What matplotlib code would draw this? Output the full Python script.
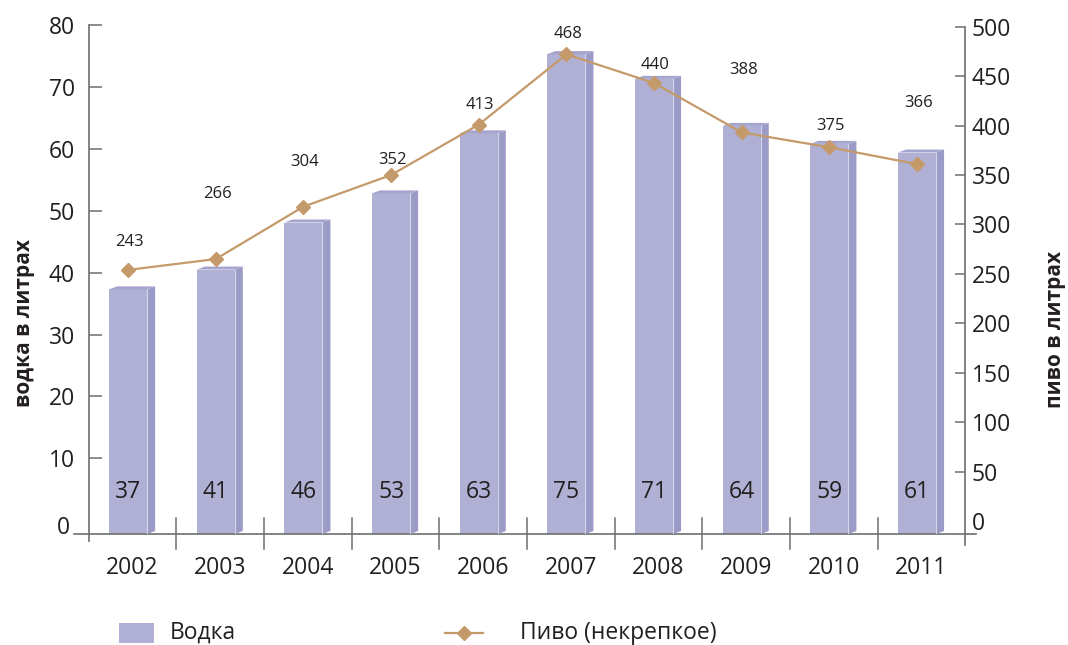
import numpy as np
import matplotlib.pyplot as plt
from matplotlib.patches import Polygon, Rectangle
from matplotlib.lines import Line2D

plt.rcParams['font.family'] = ['Open Sans', 'DejaVu Sans']

# data
years = ['2002', '2003', '2004', '2005', '2006', '2007', '2008', '2009', '2010', '2011']
vodka_heights = [37.3, 40.5, 48.1, 52.8, 62.5, 75.3, 71.3, 63.7, 60.8, 59.4]
vodka_labels = ['37', '41', '46', '53', '63', '75', '71', '64', '59', '61']
beer_values = [254, 265, 318, 350, 401, 472, 443, 393, 378, 361]
beer_labels = ['243', '266', '304', '352', '413', '468', '440', '388', '375', '366']

# label offsets above markers (points), as laid out in the original
beer_label_dy = [20, 47, 32, 11, 14, 15, 13, 45, 15, 44]

front_col = '#B0B0D4'
side_col = '#9C9BC7'
top_col = '#A5A4CE'
beer_col = '#C49A6A'
axis_col = '#6D6E71'
text_col = '#231F20'

fig = plt.figure(figsize=(10.68, 6.45), dpi=100)
ax = fig.add_axes([88.7 / 1068, 111 / 645, 876.6 / 1068, 509 / 645])
ax2 = ax.twinx()

y0 = -2.21
ax.set_ylim(y0, 80)
ax.set_xlim(-0.5, 9.5)
ax2.set_ylim(-13.1, 501.7)

x = np.arange(len(years)) - 0.05
w = 0.434
dx, dy = 0.091, 0.485

ax.bar(x, [h - y0 for h in vodka_heights], bottom=y0, width=w,
       color=front_col, edgecolor='none', zorder=2)
for xi, h in zip(x, vodka_heights):
    r = xi + w / 2
    l = xi - w / 2
    ax.add_patch(Polygon([(r, y0), (r + dx, y0 + dy), (r + dx, h + dy), (r, h)],
                         closed=True, facecolor=side_col, edgecolor='none', zorder=2))
    ax.add_patch(Polygon([(l, h), (l + dx, h + dy), (r + dx, h + dy), (r, h)],
                         closed=True, facecolor=top_col, edgecolor='none', zorder=2))
    ax.plot([r, r], [y0, h], color='#D6D6EA', lw=0.8, zorder=3)

for xi, lab in zip(x, vodka_labels):
    ax.text(xi, 4.6, lab, ha='center', va='center', fontsize=16.5, color=text_col, zorder=4)

ax2.plot(x, beer_values, color=beer_col, lw=1.6, marker='D', ms=7,
         markerfacecolor=beer_col, markeredgecolor=beer_col, zorder=5)
for xi, v, lab, d in zip(x, beer_values, beer_labels, beer_label_dy):
    ax2.annotate(lab, (xi, v), xytext=(1, d), textcoords='offset points',
                 ha='center', va='center', fontsize=12, color=text_col)

# axes styling
for a in (ax, ax2):
    for s in a.spines.values():
        s.set_visible(False)

ax.set_xticks(np.arange(len(years)))
ax.set_xticklabels(years)
ax.tick_params(axis='x', length=0, pad=16, labelsize=16.5, labelcolor=text_col)

ax.set_yticks(range(10, 81, 10))
ax.tick_params(axis='y', direction='in', length=9, width=1.1, color=axis_col,
               pad=10, labelsize=16.5, labelcolor=text_col)
ax.annotate('0', (-0.5, -1.2), xytext=(-13.5, 0), textcoords='offset points',
            ha='right', va='center', fontsize=16.5, color=text_col, annotation_clip=False)

ax2.set_yticks(range(0, 501, 50))
ax2.tick_params(axis='y', direction='in', length=7.5, width=1.1, color=axis_col,
                pad=4.5, labelsize=16.5, labelcolor=text_col)
ax2.yaxis.get_major_ticks()[0].tick2line.set_visible(False)

# axis lines
ax.plot([-0.0168, 1.0122], [0, 0], transform=ax.transAxes, color=axis_col, lw=1.2, clip_on=False)
ax.plot([0, 0], [-0.0132, 1.0], transform=ax.transAxes, color=axis_col, lw=1.2, clip_on=False)
ax.plot([1, 1], [-0.0216, 0.9967], transform=ax.transAxes, color=axis_col, lw=1.2, clip_on=False)
for i in range(len(years) - 1):
    xf = (i + 1) / len(years)
    ax.plot([xf, xf], [-0.0295, 0.0314], transform=ax.transAxes, color=axis_col, lw=1.1, clip_on=False)

# axis titles
fig.text(25 / 1068, 1 - 323 / 645, 'водка в литрах', rotation=90, ha='center', va='center',
         fontsize=15, fontweight='bold', color=text_col)
fig.text(1056 / 1068, 1 - 329 / 645, 'пиво в литрах', rotation=90, ha='center', va='center',
         fontsize=15, fontweight='bold', color=text_col)

# legend
fig.patches.append(Rectangle((119 / 1068, 2 / 645), 35 / 1068, 20.3 / 645,
                             transform=fig.transFigure, facecolor=front_col, edgecolor='none'))
fig.text(170 / 1068, 12 / 645, 'Водка', ha='left', va='center', fontsize=16.5, color=text_col)
fig.lines.append(Line2D([445 / 1068, 483 / 1068], [12 / 645, 12 / 645], transform=fig.transFigure,
                        color=beer_col, lw=1.6))
fig.lines.append(Line2D([464 / 1068], [12 / 645], transform=fig.transFigure, color=beer_col,
                        marker='D', ms=7, ls='none'))
fig.text(520 / 1068, 12 / 645, 'Пиво (некрепкое)', ha='left', va='center', fontsize=16.5, color=text_col)

fig.savefig('out.png', dpi=100)
